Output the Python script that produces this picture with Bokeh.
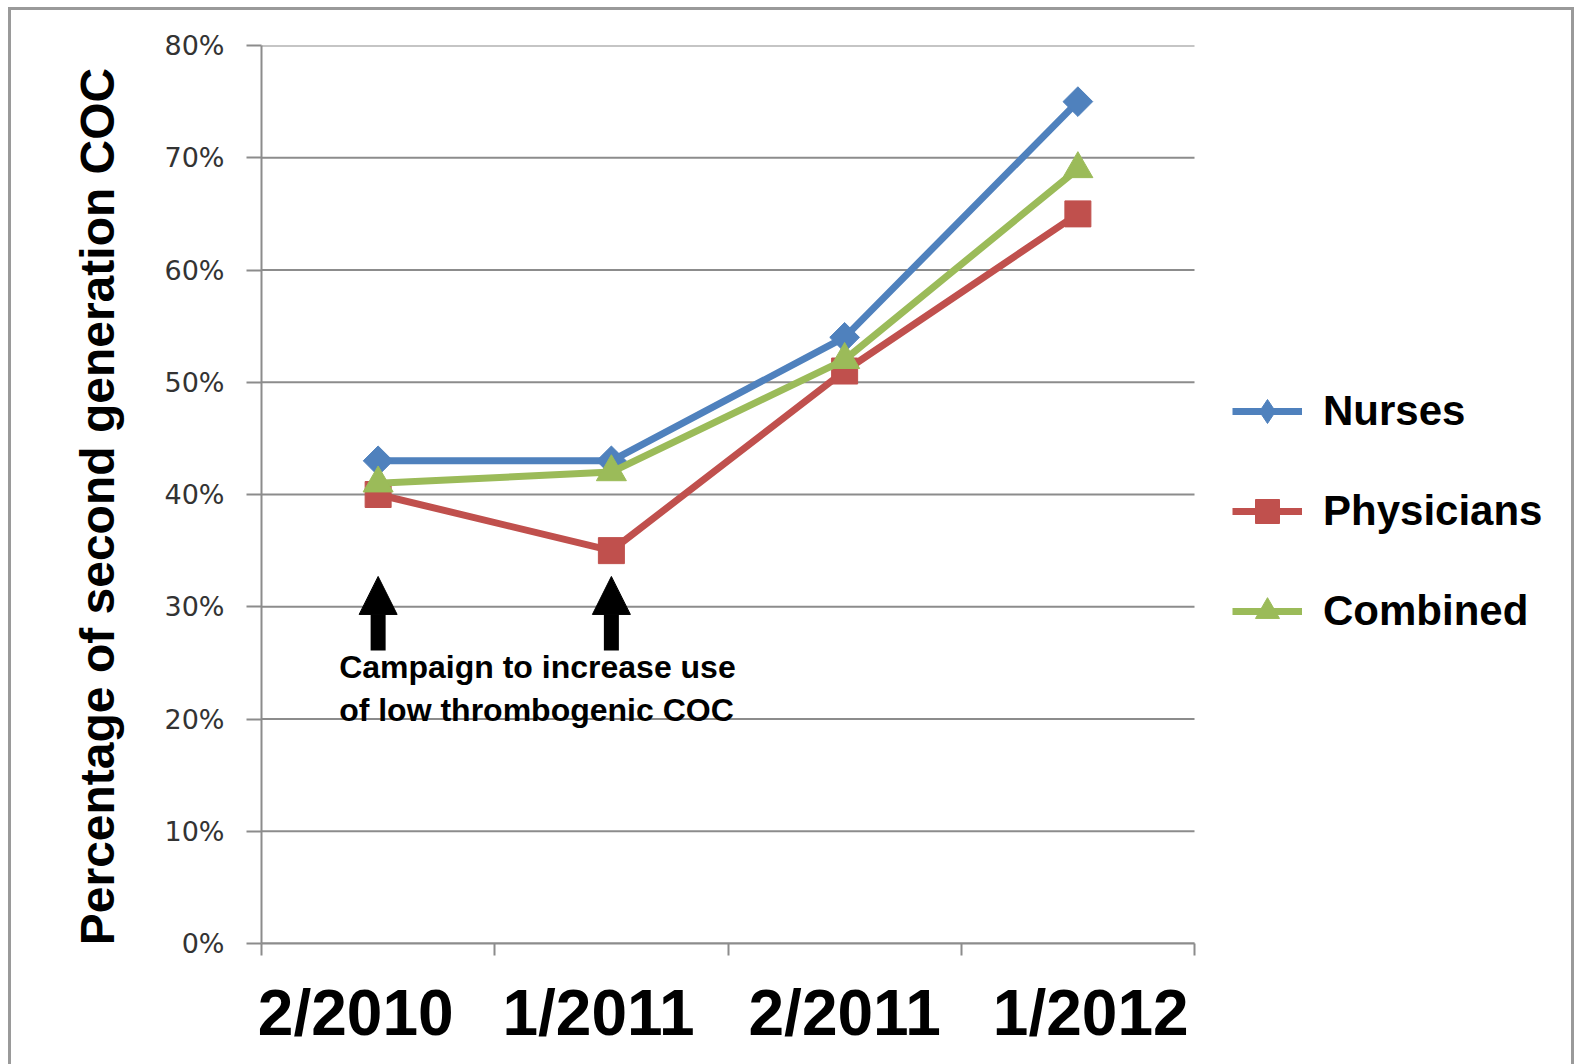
from bokeh.plotting import figure
from bokeh.models import (Range1d, FixedTicker, NumeralTickFormatter, Legend, LegendItem,
                          Arrow, NormalHead, Label)
from bokeh.embed import file_html
from bokeh.resources import INLINE

# ---- data ----
categories = ["2/2010", "1/2011", "2/2011", "1/2012"]
nurses = [0.43, 0.43, 0.54, 0.75]
physicians = [0.40, 0.35, 0.51, 0.65]
combined = [0.41, 0.42, 0.52, 0.69]
y_ticks = [0.0, 0.1, 0.2, 0.3, 0.4, 0.5, 0.6, 0.7, 0.8]
campaign_points = ["2/2010", "1/2011"]
campaign_text = "Campaign to increase use\nof low thrombogenic COC"
y_title = "Percentage of second generation COC"

n = len(categories)
xpos = [i + 0.5 for i in range(n)]
bounds = [float(i) for i in range(n + 1)]

# the reference's category labels sit slightly off their category centres
label_pad = ["{}\u2002\u2009", "{}\u2009\u2009", "{}", "\u2009\u2009{}"]

BOLD = "Liberation Sans"
GRAY = "#8c8c8c"
FRAME = "#9a9a9a"

W, H = 1579, 1064
LEFT, TOP, BOTTOM, RIGHT = 261, 45, 121, 5
PLOT_W = 933                      # pixel width of the category area
x_end = n * (W - LEFT - RIGHT) / PLOT_W   # extra room on the right holds the legend

p = figure(width=W, height=H, output_backend="svg", toolbar_location=None,
           x_range=Range1d(0, x_end), y_range=Range1d(0, 0.8),
           min_border_left=LEFT, min_border_right=RIGHT, min_border_top=TOP,
           min_border_bottom=BOTTOM)
p.outline_line_color = None
p.background_fill_alpha = 0
p.border_fill_alpha = 0
p.styles = {
    "background-color": "white",
    "background-image": (f"linear-gradient({FRAME},{FRAME}), "
                         f"linear-gradient({FRAME},{FRAME}), "
                         f"linear-gradient({FRAME},{FRAME})"),
    "background-position": "8px 7px, 8px 7px, 1571px 7px",
    "background-size": "3px 100%, 1566px 3px, 3px 100%",
    "background-repeat": "no-repeat",
}

# axes
xa = p.xaxis[0]
xa.bounds = (0, n)
xa.ticker = FixedTicker(ticks=xpos, minor_ticks=bounds)
xa.major_label_overrides = {x: f.format(c) for x, c, f in zip(xpos, categories, label_pad)}
xa.major_tick_out = 0
xa.major_tick_in = 0
xa.major_tick_line_color = None
xa.minor_tick_out = 12
xa.minor_tick_in = 0
xa.minor_tick_line_color = GRAY
xa.minor_tick_line_width = 2
xa.axis_line_color = GRAY
xa.axis_line_width = 2
xa.major_label_text_font = BOLD
xa.major_label_text_font_style = "bold"
xa.major_label_text_font_size = "64px"
xa.major_label_text_color = "black"
xa.major_label_standoff = 21

ya = p.yaxis[0]
ya.ticker = FixedTicker(ticks=y_ticks)
ya.formatter = NumeralTickFormatter(format="0%")
ya.major_tick_out = 15
ya.major_tick_in = 0
ya.major_tick_line_color = GRAY
ya.major_tick_line_width = 2
ya.minor_tick_line_color = None
ya.axis_line_color = GRAY
ya.axis_line_width = 2
ya.major_label_text_font = "DejaVu Sans"
ya.major_label_text_font_size = "27px"
ya.major_label_text_color = "#333333"
ya.major_label_standoff = 22
ya.axis_label = y_title + "\u2002"
ya.axis_label_text_font = BOLD
ya.axis_label_text_font_style = "bold"
ya.axis_label_text_font_size = "48px"
ya.axis_label_text_color = "black"
ya.axis_label_standoff = 37

# horizontal grid lines only across the category area
p.xgrid.grid_line_color = None
p.ygrid.grid_line_color = None
p.segment(x0=0, x1=n, y0=y_ticks, y1=y_ticks, line_color=GRAY, line_width=2)

series = [
    ("Nurses", nurses, "#4F81BD", "diamond"),
    ("Physicians", physicians, "#C0504D", "square"),
    ("Combined", combined, "#9BBB59", "triangle"),
]
items = []
for name, vals, color, marker in series:
    lr = p.line(xpos, vals, line_color=color, line_width=7)
    if marker == "diamond":
        # upright diamond (used by the legend key), covered by a wider diamond
        sr = p.scatter(xpos, vals, marker="diamond", size=24, fill_color=color, line_color=color)
        p.scatter(xpos, vals, marker="square", size=21, angle=0.7854,
                  fill_color=color, line_color=color)
    elif marker == "square":
        sr = p.scatter(xpos, vals, marker="square", size=26, fill_color=color, line_color=color)
    else:
        sr = p.scatter(xpos, vals, marker="triangle", size=30, fill_color=color, line_color=color)
    items.append(LegendItem(label=name, renderers=[lr, sr]))

legend = Legend(items=items, location=(971, 302), orientation="vertical",
                glyph_width=70, glyph_height=60, label_height=60, spacing=40,
                label_standoff=21, padding=0, margin=0,
                border_line_color=None, background_fill_alpha=0,
                label_text_font=BOLD, label_text_font_style="bold",
                label_text_font_size="42px", label_text_color="black")
p.add_layout(legend)

# campaign arrows
for cat in campaign_points:
    xc = xpos[categories.index(cat)]
    p.add_layout(Arrow(end=NormalHead(size=38, fill_color="black", line_color="black"),
                       x_start=xc, y_start=0.261, x_end=xc, y_end=0.327,
                       line_width=15, line_color="black"))

p.add_layout(Label(x=xpos[0], y=0.262, x_offset=-39, text=campaign_text,
                   text_font=BOLD, text_font_style="bold", text_font_size="32px",
                   text_color="black", text_baseline="top", text_align="left",
                   text_line_height=1.18))

open("out.html", "w").write(file_html(p, INLINE))
